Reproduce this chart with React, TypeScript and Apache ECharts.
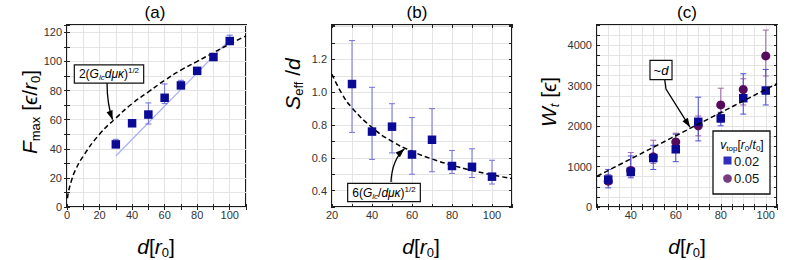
import React, { useEffect, useRef } from 'react';
import * as echarts from 'echarts';

// ---------- data ----------
const dVals = [30, 40, 50, 60, 70, 80, 90, 100];

// (a) F_max
const fMax = [43, 57.5, 63.5, 75, 83.5, 93.5, 103, 114];
const fMaxLo = [41, 56, 57, 71, 82, 92.5, 102, 112];
const fMaxHi = [46.5, 60, 71.5, 84.5, 87, 94.5, 104.5, 118];
const curveAd = [0.3, 1, 3, 5, 10, 20, 30, 40, 50, 60, 70, 80, 90, 100, 110];
const curveAf = [6, 11, 19, 25, 35, 50, 61, 71, 79, 87, 94, 100, 106, 112, 117.5];
const fitAd = [30, 100];
const fitAf = [35, 115];

// (b) S_eff/d
const sEff = [1.05, 0.76, 0.79, 0.62, 0.71, 0.55, 0.545, 0.485];
const sEffLo = [0.755, 0.59, 0.63, 0.5, 0.515, 0.505, 0.48, 0.44];
const sEffHi = [1.315, 1.03, 0.93, 0.845, 0.9, 0.645, 0.655, 0.585];
const curveBd = [20, 25, 30, 40, 50, 60, 70, 80, 90, 100, 110];
const curveBs = [1.11, 0.99, 0.905, 0.785, 0.7, 0.64, 0.593, 0.555, 0.523, 0.496, 0.473];

// (c) W_t
const wSq = [680, 871, 1210, 1427, 2107, 2191, 2690, 2880];
const wSqLo = [473, 722, 929, 1121, 1634, 2008, 2297, 2523];
const wSqHi = [929, 1262, 1527, 1800, 2715, 2341, 3294, 3402];
const wCi = [638, 904, 1240, 1610, 2008, 2523, 2905, 3736];
const wCiLo = [556, 762, 1078, 1385, 1760, 2100, 2523, 3238];
const wCiHi = [805, 1345, 1651, 1826, 2250, 2937, 3170, 4374];
const lineCd = [25, 105];
const lineCw = [760, 3050];

const legendLabels = ['0.02', '0.05'];

const FONT = 'Liberation Sans, Arial, Helvetica, sans-serif';
const SQ = '#0a0a96';
const CI = '#560a5c';

function zip(a: number[], b: number[]) {
  return a.map((v, i) => [v, b[i]]);
}

function errSeries(gridIdx: number, lo: number[], hi: number[], color: string, cap = 3) {
  return {
    type: 'custom',
    xAxisIndex: gridIdx * 2,
    yAxisIndex: gridIdx * 2,
    z: 2,
    silent: true,
    data: dVals.map((d, i) => [d, lo[i], hi[i]]),
    renderItem: (params: any, api: any) => {
      const x = api.value(0);
      const p1 = api.coord([x, api.value(1)]);
      const p2 = api.coord([x, api.value(2)]);
      const st = { stroke: color, lineWidth: 1 };
      return {
        type: 'group',
        children: [
          { type: 'line', shape: { x1: p1[0], y1: p1[1], x2: p2[0], y2: p2[1] }, style: st },
          { type: 'line', shape: { x1: p1[0] - cap, y1: p1[1], x2: p1[0] + cap, y2: p1[1] }, style: st },
          { type: 'line', shape: { x1: p2[0] - cap, y1: p2[1], x2: p2[0] + cap, y2: p2[1] }, style: st },
        ],
      };
    },
  };
}

function makeAxes(
  gridIndex: number,
  xr: [number, number, number],
  xLab: (v: number) => boolean,
  yr: [number, number, number],
  yLab: (v: number) => boolean,
  yFmt: (v: number) => string
) {
  const gridCol = '#e4e4e4';
  const tickStyle = { show: true, inside: true, length: 3, lineStyle: { color: '#222', width: 1 } };
  const xs = [
    {
      type: 'value', gridIndex, min: xr[0], max: xr[1], interval: xr[2], position: 'bottom',
      axisLine: { show: false }, axisTick: tickStyle,
      axisLabel: { formatter: (v: number) => (xLab(v) ? String(Math.round(v)) : ''), fontSize: 11, color: '#333', fontFamily: FONT, margin: 2, showMaxLabel: true },
      splitLine: { show: true, lineStyle: { color: gridCol, width: 1 } },
    },
    {
      type: 'value', gridIndex, min: xr[0], max: xr[1], interval: xr[2], position: 'top',
      axisLine: { show: false }, axisTick: tickStyle, axisLabel: { show: false }, splitLine: { show: false },
    },
  ];
  const ys = [
    {
      type: 'value', gridIndex, min: yr[0], max: yr[1], interval: yr[2], position: 'left',
      axisLine: { show: false }, axisTick: tickStyle,
      axisLabel: { formatter: (v: number) => (yLab(v) ? yFmt(v) : ''), fontSize: 11, color: '#333', fontFamily: FONT, margin: 5 },
      splitLine: { show: true, lineStyle: { color: gridCol, width: 1 } },
    },
    {
      type: 'value', gridIndex, min: yr[0], max: yr[1], interval: yr[2], position: 'right',
      axisLine: { show: false }, axisTick: tickStyle, axisLabel: { show: false }, splitLine: { show: false },
    },
  ];
  return { xs, ys };
}

const near = (v: number, step: number) => Math.abs(v / step - Math.round(v / step)) < 1e-6;

function richStyles(size: number, subSize: number) {
  const lh = Math.round(size * 1.25);
  return {
    n: { fontSize: size, fontFamily: FONT, lineHeight: lh, verticalAlign: 'middle', fill: '#000' },
    i: { fontSize: size, fontFamily: FONT, fontStyle: 'italic', lineHeight: lh, verticalAlign: 'middle', fill: '#000' },
    s: { fontSize: subSize, fontFamily: FONT, lineHeight: subSize, verticalAlign: 'bottom', fill: '#000' },
    si: { fontSize: subSize, fontFamily: FONT, fontStyle: 'italic', lineHeight: subSize, verticalAlign: 'bottom', fill: '#000' },
    sup: { fontSize: subSize, fontFamily: FONT, lineHeight: subSize, verticalAlign: 'top', fill: '#000' },
  };
}

function arrowHead(tip: number[], from: number[], len = 9, half = 3.2) {
  const dx = tip[0] - from[0];
  const dy = tip[1] - from[1];
  const L = Math.sqrt(dx * dx + dy * dy) || 1;
  const ux = dx / L, uy = dy / L;
  const bx = tip[0] - ux * len, by = tip[1] - uy * len;
  return {
    type: 'polygon',
    shape: { points: [[tip[0], tip[1]], [bx - uy * half, by + ux * half], [bx + uy * half, by - ux * half]] },
    style: { fill: '#000' },
    z: 10,
  };
}

export default function App() {
  const ref = useRef<HTMLDivElement>(null);
  useEffect(() => {
    document.body.style.margin = '0';
    const chart = echarts.init(ref.current!, null, { renderer: 'svg' });

    const a = makeAxes(0, [0, 110, 10], (v) => near(v, 20), [0, 125, 10], (v) => near(v, 20), (v) => String(Math.round(v)));
    const b = makeAxes(1, [20, 110, 10], (v) => near(v, 20), [0.3, 1.41, 0.1], (v) => near(v, 0.2) && v < 1.3, (v) => v.toFixed(1));
    const c = makeAxes(2, [25, 105, 5], (v) => near(v, 20), [0, 4500, 250], (v) => near(v, 1000), (v) => String(Math.round(v)));

    const gridBase = { show: true, borderColor: '#1a1a1a', borderWidth: 2, backgroundColor: '#fff', top: 25, height: 182, containLabel: false, outerBoundsMode: 'none' };
    const sqStyle = { color: SQ, opacity: 1 };
    const ciStyle = { color: CI, opacity: 1 };

    const option: any = {
      animation: false,
      grid: [
        { ...gridBase, left: 67, width: 179 },
        { ...gridBase, left: 332, width: 180 },
        { ...gridBase, left: 597, width: 180 },
      ],
      xAxis: [...a.xs, ...b.xs, ...c.xs],
      yAxis: [...a.ys, ...b.ys, ...c.ys],
      series: [
        // (a)
        {
          type: 'line', xAxisIndex: 0, yAxisIndex: 0, data: zip(fitAd, fitAf), symbol: 'none', z: 1,
          lineStyle: { color: '#a8aef8', width: 1.2 }, silent: true,
        },
        {
          type: 'line', xAxisIndex: 0, yAxisIndex: 0, data: zip(curveAd, curveAf), symbol: 'none', smooth: true, z: 3,
          lineStyle: { color: '#000', width: 1.5, type: [5, 3] }, silent: true,
        },
        errSeries(0, fMaxLo, fMaxHi, '#6f6fe0'),
        {
          type: 'scatter', xAxisIndex: 0, yAxisIndex: 0, data: zip(dVals, fMax), symbol: 'rect', symbolSize: 8.5, z: 4,
          itemStyle: sqStyle,
        },
        // (b)
        {
          type: 'line', xAxisIndex: 2, yAxisIndex: 2, data: zip(curveBd, curveBs), symbol: 'none', smooth: true, z: 3,
          lineStyle: { color: '#000', width: 1.5, type: [5, 3] }, silent: true,
        },
        errSeries(1, sEffLo, sEffHi, '#7272e0'),
        {
          type: 'scatter', xAxisIndex: 2, yAxisIndex: 2, data: zip(dVals, sEff), symbol: 'rect', symbolSize: 8.5, z: 4,
          itemStyle: sqStyle,
        },
        // (c)
        {
          type: 'line', xAxisIndex: 4, yAxisIndex: 4, data: zip(lineCd, lineCw), symbol: 'none', z: 5,
          lineStyle: { color: '#000', width: 1.5, type: [5, 3] }, silent: true,
        },
        errSeries(2, wCiLo, wCiHi, '#a066a6'),
        errSeries(2, wSqLo, wSqHi, '#4a4ad8'),
        {
          type: 'scatter', xAxisIndex: 4, yAxisIndex: 4, data: zip(dVals, wCi), symbol: 'circle', symbolSize: 9, z: 4,
          itemStyle: ciStyle,
        },
        {
          type: 'scatter', xAxisIndex: 4, yAxisIndex: 4, data: zip(dVals, wSq), symbol: 'rect', symbolSize: 8.5, z: 4,
          itemStyle: sqStyle,
        },
      ],
    };
    chart.setOption(option);

    // annotation arrows tied to data coordinates
    const tipA = chart.convertToPixel({ gridIndex: 0 } as any, [28, 60]) as number[];
    const tipB = chart.convertToPixel({ gridIndex: 1 } as any, [56.2, 0.655]) as number[];
    const tipC = chart.convertToPixel({ gridIndex: 2 } as any, [66.3, 1975]) as number[];

    const startA = [107, 82];
    const ctrlA = [107, 104];
    const startB = [391, 182];
    const ctrlB = [392, 160];
    const startC = [664.5, 78];
    const midC = [666, 89];

    const big = richStyles(21, 13);
    const small = richStyles(12, 8);
    const leg = richStyles(12, 8);

    const titles = [
      { t: '(a)', x: 155 },
      { t: '(b)', x: 417 },
      { t: '(c)', x: 687 },
    ].map((o) => ({
      type: 'text', x: o.x, y: 12,
      style: { text: o.t, font: `17px ${FONT}`, fill: '#000', align: 'center', verticalAlign: 'middle' },
    }));

    const xTitles = [156, 421, 687].map((x) => ({
      type: 'text', x, y: 246,
      style: { text: '{i|d}{n|[}{i|r}{s|0}{n|]}', rich: big, align: 'center', verticalAlign: 'middle' },
    }));

    const yTitles = [
      { x: 29, y: 112, t: '{i|F}{s|max}{n| [}{i|ϵ}{n|/}{i|r}{s|0}{n|]}' },
      { x: 292, y: 84, t: '{i|S}{s|eff}{n| /}{i|d}' },
      { x: 548, y: 102, t: '{i|W}{si|t}{n| [}{i|ϵ}{n|]}' },
    ].map((o) => ({
      type: 'text', x: o.x, y: o.y, rotation: Math.PI / 2,
      style: { text: o.t, rich: big, align: 'center', verticalAlign: 'middle' },
    }));

    const boxStyle = { backgroundColor: '#fff', borderColor: '#111', borderWidth: 1.2, padding: [1, 4, 1, 4] };

    const graphic: any[] = [
      ...titles,
      ...xTitles,
      ...yTitles,
      // (a) annotation
      {
        type: 'bezierCurve', z: 10,
        shape: { x1: startA[0], y1: startA[1], x2: tipA[0], y2: tipA[1], cpx1: ctrlA[0], cpy1: ctrlA[1] },
        style: { stroke: '#000', lineWidth: 1.3, fill: 'none' },
      },
      arrowHead(tipA, ctrlA),
      {
        type: 'text', x: 109, y: 74, z: 11,
        style: { text: '{n|2(}{i|G}{si|lc}{i|dμκ}{n|)}{sup|1/2}', rich: small, align: 'center', verticalAlign: 'middle', ...boxStyle },
      },
      // (b) annotation
      {
        type: 'bezierCurve', z: 10,
        shape: { x1: startB[0], y1: startB[1], x2: tipB[0], y2: tipB[1], cpx1: ctrlB[0], cpy1: ctrlB[1] },
        style: { stroke: '#000', lineWidth: 1.3, fill: 'none' },
      },
      arrowHead(tipB, ctrlB),
      {
        type: 'text', x: 384, y: 192.5, z: 11,
        style: { text: '{n|6(}{i|G}{si|lc}{n|/}{i|dμκ}{n|)}{sup|1/2}', rich: small, align: 'center', verticalAlign: 'middle', ...boxStyle },
      },
      // (c) annotation
      {
        type: 'polyline', z: 10,
        shape: { points: [startC, midC, tipC] },
        style: { stroke: '#000', lineWidth: 1.3, fill: 'none' },
      },
      arrowHead(tipC, midC),
      {
        type: 'text', x: 661, y: 70, z: 11,
        style: { text: '{n|~}{i|d}', rich: richStyles(13, 8), align: 'center', verticalAlign: 'middle', ...boxStyle, padding: [1, 3, 1, 3] },
      },
      // legend (c)
      {
        type: 'rect', z: 12,
        shape: { x: 713, y: 131, width: 57, height: 63 },
        style: { fill: '#fff', stroke: '#111', lineWidth: 1.3 },
      },
      {
        type: 'text', x: 742, y: 145, z: 13,
        style: { text: '{i|v}{s|top}{n|[}{i|r}{s|0}{n|/}{i|t}{s|0}{n|]}', rich: leg, align: 'center', verticalAlign: 'middle' },
      },
      {
        type: 'rect', z: 13,
        shape: { x: 723.5, y: 156.5, width: 8, height: 8 },
        style: { fill: '#2f2fbf' },
      },
      {
        type: 'text', x: 734, y: 161, z: 13,
        style: { text: legendLabels[0], font: `13px ${FONT}`, fill: '#111', align: 'left', verticalAlign: 'middle' },
      },
      {
        type: 'circle', z: 13,
        shape: { cx: 727.5, cy: 178.5, r: 4.3 },
        style: { fill: '#7a3a80' },
      },
      {
        type: 'text', x: 734, y: 178.5, z: 13,
        style: { text: legendLabels[1], font: `13px ${FONT}`, fill: '#111', align: 'left', verticalAlign: 'middle' },
      },
    ];
    chart.setOption({ graphic });

    return () => chart.dispose();
  }, []);
  return <div ref={ref} style={{ width: 789, height: 260 }} />;
}
